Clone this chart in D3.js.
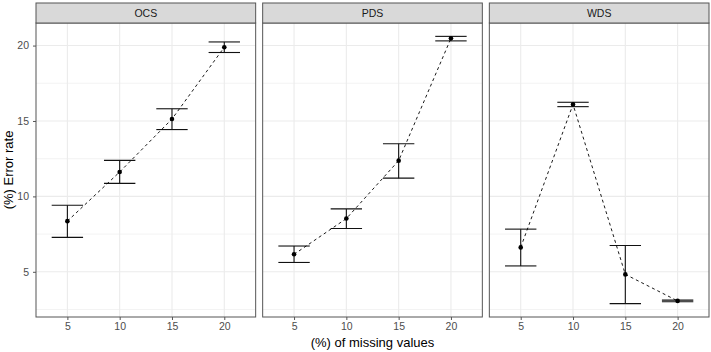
<!DOCTYPE html>
<html lang="en">
<head>
  <meta charset="UTF-8">
  <title>Error rate</title>
  <script src="https://cdn.jsdelivr.net/npm/d3@7"></script>
  <style>
    body { margin: 0; background: #fff; }
    svg { display: block; font-family: "Liberation Sans", Arial, sans-serif; }
  </style>
</head>
<body>
<script>
  // facets and x levels
  const categories = ['OCS', 'PDS', 'WDS']
  const missing = ['5', '10', '15', '20']

  // error rate: mean, lower and upper bounds
  const ocsMean = [8.36, 11.62, 15.13, 19.89]
  const ocsLow = [7.28, 10.86, 14.43, 19.54]
  const ocsHigh = [9.41, 12.39, 15.81, 20.24]

  const pdsMean = [6.16, 8.53, 12.37, 20.48]
  const pdsLow = [5.62, 7.87, 11.21, 20.31]
  const pdsHigh = [6.71, 9.17, 13.49, 20.61]

  const wdsMean = [6.62, 16.10, 4.83, 3.07]
  const wdsLow = [5.39, 15.95, 2.89, 3.02]
  const wdsHigh = [7.83, 16.24, 6.74, 3.12]

  const yTicks = [5, 10, 15, 20]
  const yMinor = [2.5, 7.5, 12.5, 17.5]

  const series = {
    OCS: {mean: ocsMean, low: ocsLow, high: ocsHigh},
    PDS: {mean: pdsMean, low: pdsLow, high: pdsHigh},
    WDS: {mean: wdsMean, low: wdsLow, high: wdsHigh}
  }

  const width = 711
  const height = 352
  const margin = {top: 3, right: 2, bottom: 35, left: 36}
  const gap = 7
  const stripH = 20
  const panelW = (width - margin.left - margin.right - gap * 2) / 3
  const panelTop = margin.top + stripH
  const panelBottom = height - margin.bottom
  const borderCol = '#555'

  // y domain: data extent with 5% expansion like ggplot
  const allLow = d3.min(categories, c => d3.min(series[c].low))
  const allHigh = d3.max(categories, c => d3.max(series[c].high))
  const pad = (allHigh - allLow) * 0.05
  const y = d3.scaleLinear()
    .domain([allLow - pad, allHigh + pad])
    .range([panelBottom, panelTop])

  const x = d3.scalePoint()
    .domain(missing)
    .range([0, panelW])
    .padding(0.6)
  const step = x.step()
  const capHalf = step * 0.3

  const svg = d3.select('body').append('svg')
    .attr('width', width)
    .attr('height', height)

  categories.forEach((cat, i) => {
    const x0 = margin.left + i * (panelW + gap)
    const g = svg.append('g').attr('transform', `translate(${x0},0)`)
    const s = series[cat]
    const rows = missing.map((m, j) => ({m, mean: s.mean[j], low: s.low[j], high: s.high[j]}))

    // grid
    g.append('g').selectAll('line').data(yMinor.filter(v => y(v) <= panelBottom)).join('line')
      .attr('x1', 0).attr('x2', panelW)
      .attr('y1', d => y(d)).attr('y2', d => y(d))
      .attr('stroke', '#ebebeb').attr('stroke-width', 0.6)
    g.append('g').selectAll('line').data(yTicks).join('line')
      .attr('x1', 0).attr('x2', panelW)
      .attr('y1', d => y(d)).attr('y2', d => y(d))
      .attr('stroke', '#ebebeb').attr('stroke-width', 1.1)
    g.append('g').selectAll('line').data(missing).join('line')
      .attr('x1', d => x(d)).attr('x2', d => x(d))
      .attr('y1', panelTop).attr('y2', panelBottom)
      .attr('stroke', '#ebebeb').attr('stroke-width', 1.1)

    // error bars
    const eb = g.append('g').attr('stroke', '#111').attr('stroke-width', 1.1)
      .selectAll('g').data(rows).join('g')
    eb.append('line')
      .attr('x1', d => x(d.m)).attr('x2', d => x(d.m))
      .attr('y1', d => y(d.low)).attr('y2', d => y(d.high))
    eb.append('line')
      .attr('x1', d => x(d.m) - capHalf).attr('x2', d => x(d.m) + capHalf)
      .attr('y1', d => y(d.low)).attr('y2', d => y(d.low))
    eb.append('line')
      .attr('x1', d => x(d.m) - capHalf).attr('x2', d => x(d.m) + capHalf)
      .attr('y1', d => y(d.high)).attr('y2', d => y(d.high))

    // dashed line
    g.append('path')
      .datum(rows)
      .attr('fill', 'none')
      .attr('stroke', '#000')
      .attr('stroke-width', 0.9)
      .attr('stroke-dasharray', '3,3')
      .attr('d', d3.line().x(d => x(d.m)).y(d => y(d.mean)))

    g.append('g').selectAll('circle').data(rows).join('circle')
      .attr('cx', d => x(d.m)).attr('cy', d => y(d.mean))
      .attr('r', 2.3).attr('fill', '#000')

    // panel border
    g.append('rect')
      .attr('x', 0).attr('y', panelTop)
      .attr('width', panelW).attr('height', panelBottom - panelTop)
      .attr('fill', 'none').attr('stroke', borderCol).attr('stroke-width', 1)

    // strip
    g.append('rect')
      .attr('x', 0).attr('y', margin.top)
      .attr('width', panelW).attr('height', stripH)
      .attr('fill', '#d9d9d9').attr('stroke', borderCol).attr('stroke-width', 1)
    g.append('text')
      .attr('x', panelW / 2).attr('y', margin.top + stripH / 2)
      .attr('dy', '0.35em')
      .attr('text-anchor', 'middle')
      .attr('font-size', 10.5)
      .attr('fill', '#1a1a1a')
      .text(cat)

    // x axis
    const xa = g.append('g')
      .attr('transform', `translate(0,${panelBottom})`)
      .call(d3.axisBottom(x).tickSize(3).tickPadding(3))
    xa.select('.domain').remove()
    xa.selectAll('line').attr('stroke', borderCol)
    xa.selectAll('text').attr('font-size', 10.5).attr('fill', '#4d4d4d')
      .attr('font-family', '"Liberation Sans", Arial, sans-serif')

    if (i === 0) {
      const ya = g.append('g')
        .call(d3.axisLeft(y).tickValues(yTicks).tickSize(3).tickPadding(4))
      ya.select('.domain').remove()
      ya.selectAll('line').attr('stroke', borderCol)
      ya.selectAll('text').attr('font-size', 10.5).attr('fill', '#4d4d4d')
        .attr('font-family', '"Liberation Sans", Arial, sans-serif')
    }
  })

  // axis titles
  svg.append('text')
    .attr('x', margin.left + (width - margin.left - margin.right) / 2)
    .attr('y', height - 5)
    .attr('text-anchor', 'middle')
    .attr('font-size', 13)
    .attr('fill', '#000')
    .text('(%) of missing values')

  svg.append('text')
    .attr('transform', `translate(12.5,${(panelTop + panelBottom) / 2}) rotate(-90)`)
    .attr('text-anchor', 'middle')
    .attr('font-size', 13)
    .attr('fill', '#000')
    .text('(%) Error rate')
</script>
</body>
</html>
